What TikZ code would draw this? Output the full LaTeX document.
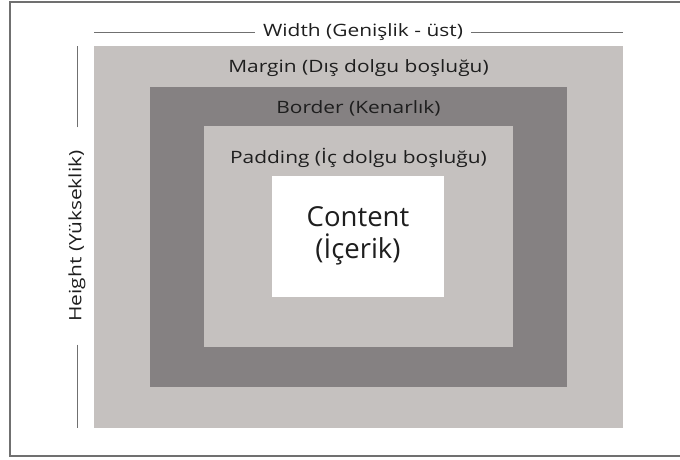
\documentclass[tikz,border=0pt]{standalone}
\usepackage{fontspec}
\setmainfont{Open Sans}
\newfontfamily\lblfont[FakeStretch=1.23]{Open Sans}
\usetikzlibrary{positioning,calc}

\definecolor{marginfill}{HTML}{C5C1BF}
\definecolor{borderfill}{HTML}{858182}
\definecolor{framegray}{HTML}{707070}
\definecolor{txtgray}{HTML}{1E1E1E}

\begin{document}
\begin{tikzpicture}[
  x=1pt, y=-1pt,
  font=\lblfont\fontsize{17}{20}\selectfont,
  layer/.style={draw=none, inner sep=0pt, outer sep=0pt},
  lbl/.style={text=txtgray, inner sep=0pt},
  dimline/.style={draw=framegray, line width=0.9pt}
]
\useasboundingbox (0,0) rectangle (680,459);
\draw[framegray, line width=1.6pt] (683,2) -- (10,2) -- (10,456) -- (683,456);

% nested boxes
\node[layer, fill=marginfill, minimum width=529pt, minimum height=382pt] (margin) at (358.5,237) {};
\node[layer, fill=borderfill, minimum width=417pt, minimum height=300pt] (border) at (358.5,237) {};
\node[layer, fill=marginfill, minimum width=309pt, minimum height=221pt] (padding) at (358.5,236.5) {};
\node[layer, fill=white, minimum width=172pt, minimum height=121pt] (content) at (358,236.5) {};

\node[lbl, below=13.5pt of margin.north] (marginlbl) {Margin (Dış dolgu boşluğu)};
\node[lbl, below=13pt of border.north] (borderlbl) {Border (Kenarlık)};
\node[lbl, below=22.5pt of padding.north] (paddinglbl) {Padding (İç dolgu boşluğu)};
\node[lbl, align=center, font=\rmfamily\fontsize{27.5}{32}\selectfont] (contentlbl) at ($(content.center)+(0,-1)$) {Content\\(İçerik)};

% width
\node[lbl, inner xsep=8pt] (widthlbl) at (363,32) {Width (Genişlik - üst)};
\draw[dimline] (widthlbl.west) -- (widthlbl.west -| margin.west);
\draw[dimline] (widthlbl.east) -- (widthlbl.east -| margin.east);

% height
\node[lbl, rotate=90, inner xsep=23pt] (heightlbl) at (77,236) {Height (Yükseklik)};
\draw[dimline] (heightlbl.east) -- (heightlbl.east |- margin.north);
\draw[dimline] (heightlbl.west) -- (heightlbl.west |- margin.south);
\end{tikzpicture}
\end{document}
